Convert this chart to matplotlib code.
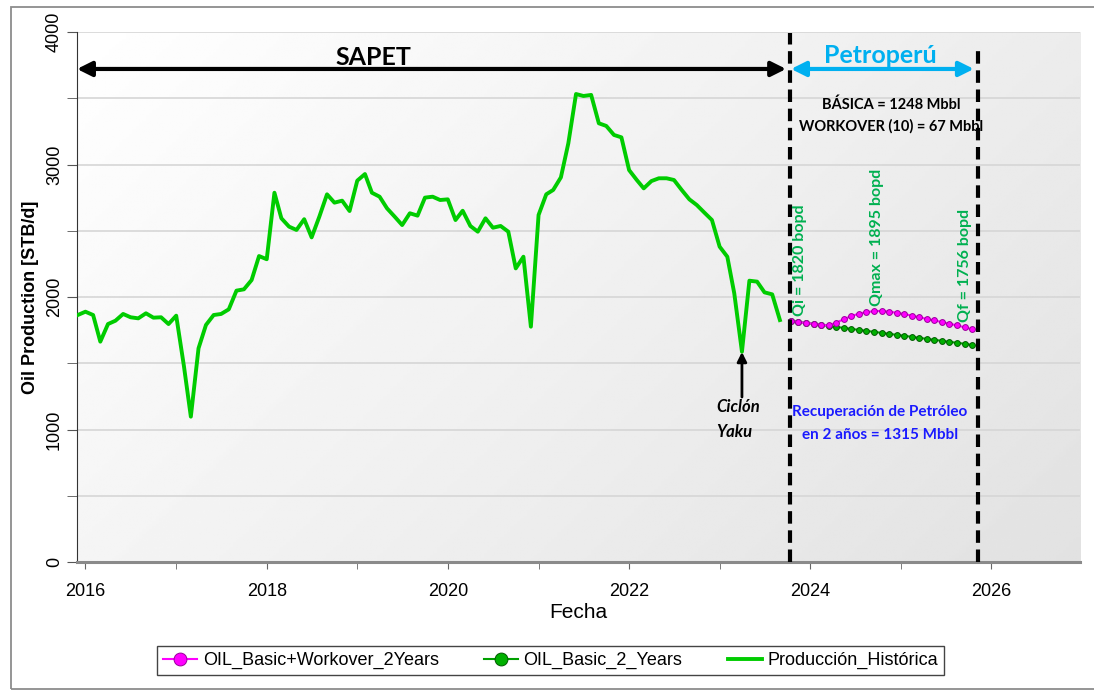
import numpy as np
import pandas as pd
import matplotlib
matplotlib.use("Agg")
import matplotlib.pyplot as plt
import matplotlib.dates as mdates
from matplotlib.patches import Rectangle

################################################################################
# Data
hist_start = "2015-12-01"
hist_oil = [1864, 1889, 1864, 1663, 1796, 1821, 1872, 1847, 1839, 1877,
            1844, 1847, 1796, 1859, 1480, 1097, 1613, 1789, 1864, 1872,
            1907, 2048, 2058, 2128, 2309, 2285, 2787, 2594, 2531, 2506,
            2587, 2450, 2606, 2775, 2712, 2727, 2649, 2878, 2928, 2787,
            2757, 2669, 2606, 2543, 2632, 2614, 2750, 2757, 2732, 2737,
            2581, 2651, 2536, 2493, 2594, 2523, 2536, 2493, 2216, 2304,
            1776, 2619, 2775, 2808, 2903, 3160, 3532, 3517, 3525, 3311,
            3291, 3223, 3205, 2958, 2883, 2820, 2875, 2896, 2896, 2883,
            2808, 2737, 2694, 2636, 2581, 2380, 2304, 2028, 1587, 2123,
            2116, 2035, 2020, 1826]

fc_start = "2023-10-15"
fc_basic_workover = [1820, 1810, 1805, 1797, 1790, 1786, 1806, 1832, 1856, 1874,
                     1886, 1893, 1895, 1889, 1881, 1871, 1859, 1847, 1835, 1823,
                     1811, 1798, 1786, 1771, 1756]
fc_basic = [1820, 1812, 1804, 1797, 1789, 1782, 1774, 1767, 1759, 1752,
            1744, 1737, 1729, 1722, 1714, 1707, 1699, 1692, 1684, 1677,
            1669, 1662, 1654, 1647, 1638]

y_ticks = [0, 1000, 2000, 3000, 4000]

hist_dates = pd.date_range(hist_start, periods=len(hist_oil), freq="MS")
fc_dates = pd.date_range(fc_start, periods=len(fc_basic), freq=pd.DateOffset(months=1))


def d(s):
    return mdates.date2num(pd.Timestamp(s))


################################################################################
# Figure
fig = plt.figure(figsize=(10.94, 6.90), dpi=100)
ax = fig.add_axes([77 / 1094, 1 - 562 / 690, 1003 / 1094, 530 / 690])

x_left, x_right = d("2015-11-28"), d("2026-12-24")
ax.set_xlim(x_left, x_right)
ax.set_ylim(0, 4000)

# gradient background
gx, gy = np.meshgrid(np.linspace(0, 1, 300), np.linspace(0, 1, 200))
grad = 1.0 - 0.115 * (0.65 * gx + 0.35 * gy)
ax.imshow(grad, extent=[0, 1, 0, 1], transform=ax.transAxes, cmap="gray",
          vmin=0, vmax=1, aspect="auto", zorder=0, origin="upper")

ax.set_yticks(y_ticks)
ax.set_yticks(np.arange(500, 4000, 1000), minor=True)
for v in np.arange(500, 4001, 500):
    ax.axhline(v, color="#d6d6d6", lw=1.2, zorder=1)

ax.xaxis.set_major_locator(mdates.YearLocator(2))
ax.xaxis.set_minor_locator(mdates.YearLocator(1))
ax.xaxis.set_major_formatter(mdates.DateFormatter("%Y"))

for s in ["top", "right"]:
    ax.spines[s].set_visible(False)
ax.spines["left"].set_color("#333333")
ax.spines["bottom"].set_color("#8a8a8a")
ax.spines["bottom"].set_linewidth(2.2)

ax.tick_params(axis="x", which="both", direction="out", length=5, color="#666666",
               labelsize=13, pad=10)
ax.tick_params(axis="y", which="both", direction="out", length=7, color="#555555",
               labelsize=13, pad=3)
for lab in ax.get_xticklabels() + ax.get_yticklabels():
    lab.set_fontfamily("Liberation Sans")
for lab in ax.get_yticklabels():
    lab.set_rotation(90)
    lab.set_va("center")

ax.set_ylabel("Oil Production [STB/d]", fontsize=13, fontweight="bold",
              family="Liberation Sans")
ax.yaxis.set_label_coords(-0.038, 0.5)
ax.set_xlabel("Fecha", fontsize=15, family="Liberation Sans")
ax.xaxis.set_label_coords(0.5, -0.078)

# series
l_hist, = ax.plot(hist_dates, hist_oil, color="#00cc00", lw=2.8, zorder=4,
                  label="Producción_Histórica")
l_bw, = ax.plot(fc_dates, fc_basic_workover, color="#ff00ff", lw=1.5, marker="o",
                ms=4.2, mfc="#ff00ff", mec="#990099", mew=0.7, zorder=6,
                label="OIL_Basic+Workover_2Years")
l_b, = ax.plot(fc_dates, fc_basic, color="#00a000", lw=1.5, marker="o",
               ms=4.2, mfc="#00b000", mec="#005a00", mew=0.7, zorder=5,
               label="OIL_Basic_2_Years")

# dashed limits
ax.plot([d("2023-10-10")] * 2, [0, 3990], color="black", lw=3.0,
        dashes=(3.0, 1.6), zorder=7)
ax.plot([d("2025-11-06")] * 2, [0, 3900], color="black", lw=3.0,
        dashes=(3.0, 1.6), zorder=7)

# period arrows
ax.annotate("", xy=(x_left, 3721), xytext=(d("2023-09-26"), 3721),
            arrowprops=dict(arrowstyle="<|-|>", lw=3, color="black",
                            mutation_scale=22, shrinkA=0, shrinkB=0), zorder=8)
ax.annotate("", xy=(d("2023-10-16"), 3721), xytext=(d("2025-10-22"), 3721),
            arrowprops=dict(arrowstyle="<|-|>", lw=3, color="#00b0f0",
                            mutation_scale=22, shrinkA=0, shrinkB=0), zorder=8)

cal = ["Lato", "DejaVu Sans"]
ax.text(d("2019-03-07"), 3811, "SAPET", fontsize=18, fontweight="bold",
        family=cal, ha="center", va="center", zorder=9)
ax.text(d("2024-10-08"), 3826, "Petroperú", fontsize=18, fontweight="bold",
        family=cal, color="#00b0f0", ha="center", va="center", zorder=9)
ax.text(d("2024-11-24"), 3449, "BÁSICA = 1248 Mbbl", fontsize=10.5,
        fontweight="bold", family=cal, ha="center", va="center", zorder=9)
ax.text(d("2024-11-24"), 3291, "WORKOVER (10) = 67 Mbbl", fontsize=10.5,
        fontweight="bold", family=cal, ha="center", va="center", zorder=9)

q_green = "#00b050"
ax.text(d("2023-11-22"), 2279, "Qi = 1820 bopd", fontsize=11.5, fontweight="bold",
        family=cal, color=q_green, rotation=90, ha="center", va="center", zorder=9)
ax.text(d("2024-09-27"), 2453, "Qmax = 1895 bopd", fontsize=11.5, fontweight="bold",
        family=cal, color=q_green, rotation=90, ha="center", va="center", zorder=9)
ax.text(d("2025-09-16"), 2241, "Qf = 1756 bopd", fontsize=11.5, fontweight="bold",
        family=cal, color=q_green, rotation=90, ha="center", va="center", zorder=9)

ax.text(d("2023-03-17"), 1170, "Ciclón", fontsize=12, fontweight="bold",
        fontstyle="italic", family=cal, ha="center", va="center", zorder=9)
ax.text(d("2023-03-03"), 981, "Yaku", fontsize=12, fontweight="bold",
        fontstyle="italic", family=cal, ha="center", va="center", zorder=9)
ax.annotate("", xy=(d("2023-04-01"), 1585), xytext=(d("2023-04-01"), 1245),
            arrowprops=dict(arrowstyle="-|>", lw=2, color="black",
                            mutation_scale=14, shrinkA=0, shrinkB=0), zorder=8)

ax.text(d("2024-10-08"), 1132, "Recuperación de Petróleo", fontsize=11,
        fontweight="bold", family=cal, color="#1a1aff", ha="center", va="center",
        zorder=6)
ax.text(d("2024-10-08"), 958, "en 2 años = 1315 Mbbl", fontsize=11,
        fontweight="bold", family=cal, color="#1a1aff", ha="center", va="center",
        zorder=6)

# legend
leg = fig.legend(handles=[l_bw, l_b, l_hist], loc="center",
                 bbox_to_anchor=(550.5 / 1094, 1 - 660.5 / 690), ncol=3,
                 fancybox=False, edgecolor="#444444", framealpha=1,
                 prop={"family": "Liberation Sans", "size": 13},
                 handlelength=1.9, handletextpad=0.3, columnspacing=2.5,
                 markerscale=2.2, borderpad=0.35)
leg.get_frame().set_linewidth(1.0)

# outer frame of the screenshot
fig.add_artist(Rectangle((11 / 1094, 1 / 690), 1.1, 682 / 690,
                         transform=fig.transFigure, fill=False,
                         edgecolor="#8c8c8c", lw=1.3))

fig.savefig("out.png", dpi=100)
